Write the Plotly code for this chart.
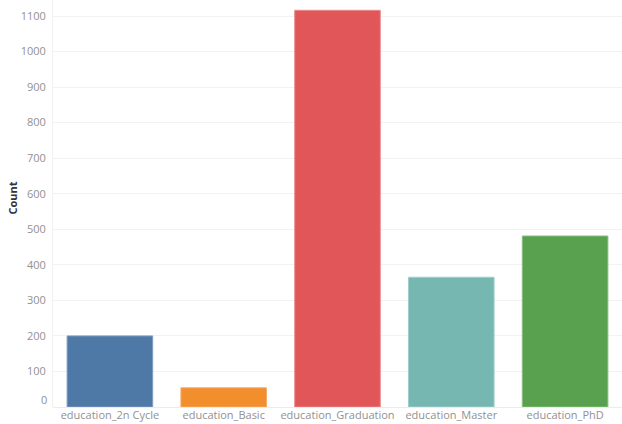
import plotly.graph_objects as go

categories = ["education_2n Cycle", "education_Basic", "education_Graduation", "education_Master", "education_PhD"]
counts = [200, 54, 1116, 365, 481]
colors = ["#4e79a7", "#f28e2b", "#e15759", "#76b7b2", "#59a14f"]
border_colors = ["#7f9dbf", "#f5ab68", "#ea8a8b", "#a0cdca", "#86be7f"]
y_ticks = [100, 200, 300, 400, 500, 600, 700, 800, 900, 1000, 1100]
y_title = "Count"

fig = go.Figure(go.Bar(
    x=categories, y=counts,
    marker=dict(color=colors, line=dict(color=border_colors, width=1)),
    hoverinfo="skip",
))

fig.update_layout(
    width=622, height=424,
    margin=dict(l=53, r=0, t=0, b=17),
    paper_bgcolor="white", plot_bgcolor="white",
    bargap=0.248,
    showlegend=False,
    font=dict(family="Open Sans, Lato, sans-serif", size=11, color="#919191"),
)
fig.update_xaxes(
    showgrid=False, ticks="", tickfont=dict(size=11, color="#919191"),
    showline=False,
)
fig.update_yaxes(
    range=[0, 1145], tickvals=y_ticks, ticktext=[str(v) for v in y_ticks],
    showgrid=True, gridcolor="#f2f2f2", gridwidth=1,
    zeroline=True, zerolinecolor="#ececec", zerolinewidth=1,
    showline=True, linecolor="#f0f0f0", linewidth=1,
    ticks="", tickfont=dict(size=11, color="#919191"), ticklabelstandoff=4,
)
fig.add_annotation(
    x=0, xref="paper", xanchor="center", xshift=-41,
    y=0.5, yref="paper", yanchor="middle", yshift=5,
    text="<b>" + y_title + "</b>", textangle=-90, showarrow=False,
    font=dict(size=11, color="#333333"),
)
fig.add_annotation(
    x=0, xref="paper", xanchor="right", xshift=-4,
    y=0, yref="y", yshift=8,
    text="0", showarrow=False, font=dict(size=11, color="#919191"),
)
fig.write_html(
    "out.html",
    config={"displayModeBar": False},
    post_script="document.body.style.margin='0';document.body.style.overflow='hidden';",
)
